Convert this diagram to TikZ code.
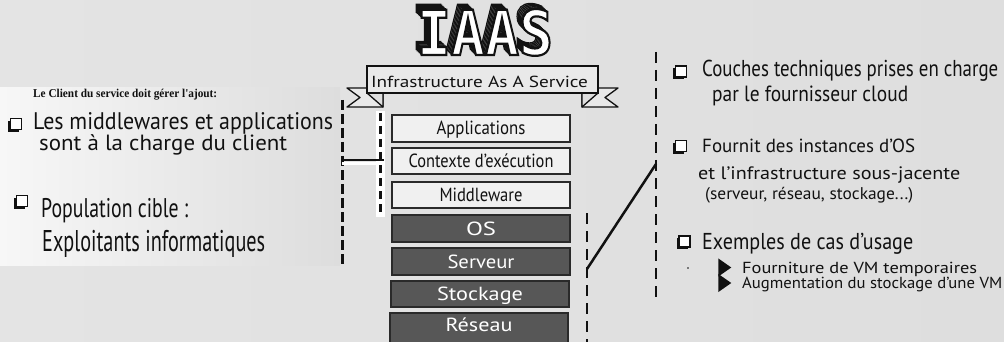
\documentclass[tikz,border=0pt]{standalone}
\usepackage{fontspec}
\usepackage{graphicx}
\setmainfont{PT Sans}
\newfontfamily\hdrfont{Liberation Serif}
\newfontfamily\ttlfont{DejaVu Sans Mono}
\usetikzlibrary{shapes.geometric,shadows}

\definecolor{bgl}{HTML}{E4E4E4}
\definecolor{bgm}{HTML}{E9E9E9}
\definecolor{bgr}{HTML}{DEDEDE}
\definecolor{panl}{HTML}{F7F7F7}
\definecolor{panr}{HTML}{DDDDDD}
\definecolor{boxlight}{HTML}{F0F0F0}
\definecolor{boxdark}{HTML}{575757}
\definecolor{edge}{HTML}{2A2A2A}
\definecolor{ink}{HTML}{111111}
\definecolor{depth}{HTML}{9A9A9A}

% set a text to a given width, keeping its natural height
\newcommand\fitw[2]{\resizebox{#1pt}{\height}{#2}}
\newcommand\fs[1]{\fontsize{#1}{#1}\selectfont}
% outlined title letters: #1 stroke width, #2 fill colour
\newcommand\ttltext[2]{{\color{#2}\special{pdf:literal direct 2 Tr #1 w 0.07 0.07 0.07 RG}%
  \ttlfont\bfseries\fs{62}\fitw{136}{IAAS}\special{pdf:literal direct 0 Tr}}}

\begin{document}
\begin{tikzpicture}[x=1pt,y=-1pt,
  hand/.style={anchor=base west, inner sep=0pt, text=ink},
  layer/.style={draw=edge, line width=1.6pt, minimum width=178pt, inner sep=0pt,
    text height=13pt, text depth=0pt, font=\fs{19}},
  lightlayer/.style={layer, fill=boxlight, text=ink},
  darklayer/.style={layer, fill=boxdark, text=white},
  chkbox/.style={draw=ink, fill=white, line width=1.4pt, minimum size=11pt, inner sep=0pt,
    drop shadow={shadow xshift=-2.2pt, shadow yshift=-2.2pt, opacity=1, fill=ink}},
  tribullet/.style={isosceles triangle, isosceles triangle apex angle=70, fill=ink,
    minimum height=13pt, minimum width=9pt, inner sep=0pt},
  ldash/.style={line width=3pt, dash pattern=on 10pt off 4pt, ink},
  idash/.style={line width=3pt, dash pattern=on 8pt off 5pt, ink},
  rdash/.style={line width=2pt, dash pattern=on 11pt off 7pt, ink},
  title/.style={anchor=base, inner sep=0pt}
]
\useasboundingbox (0,0) rectangle (1004,342);
\clip (0,0) rectangle (1004,342);

% background
\shade[left color=bgl, middle color=bgm, right color=bgr] (0,0) rectangle (1004,342);
\shade[left color=panl, right color=panr] (0,88) rectangle (340,265);

% title: hatched depth behind white outlined letters
\foreach \t in {5,4,3,2,1}
  \node[title] at ({485-1.1*\t},{55-1.1*\t}) {\ttltext{1.3}{depth}};
\node[title] (iaas) at (485,55) {\ttltext{2.2}{white}};

% ribbon tails
\draw[ink, fill=bgm, line width=1.3pt, line join=round]
  (383,88) -- (347,88) -- (360,97.5) -- (347,107) -- (383,107) -- cycle;
\draw[ink, fill=bgm, line width=1.3pt, line join=round]
  (582,88) -- (618,88) -- (605,97.5) -- (618,107) -- (582,107) -- cycle;
\draw[ink, fill=bgr, line width=1.3pt, line join=round] (367,93) -- (383,107) -- (383,93) -- cycle;
\draw[ink, fill=bgr, line width=1.3pt, line join=round] (598,93) -- (582,107) -- (582,93) -- cycle;

% ribbon
\node[draw=ink, fill=bgm, line width=1.6pt, minimum width=231pt, minimum height=27pt, inner sep=0pt]
  (ribbon) at (482.5,79.5) {};
\node[anchor=base, inner sep=0pt, text=ink] (ribbontxt) at (479.5,88)
  {\fs{16}\fitw{217}{Infrastructure As A Service}};

% layer stack
\node[lightlayer, minimum height=27pt] (app) at (481,128.5) {\fitw{89}{Applications}};
\node[lightlayer, minimum height=26pt] (ctx) at (481,161) {\fitw{145}{Contexte d’exécution}};
\node[lightlayer, minimum height=26pt] (mid) at (481,195) {\fitw{83}{Middleware}};
\node[darklayer, minimum height=27pt] (os) at (481,228.5) {\fitw{30}{OS}};
\node[darklayer, minimum height=27pt] (srv) at (481,261.5) {\fitw{67}{Serveur}};
\node[darklayer, minimum height=26pt] (stk) at (480,294) {\fitw{86}{Stockage}};
\node[darklayer, minimum height=33pt, text depth=10pt] (res) at (479,329.5) {\fitw{67}{Réseau}};

% left brackets
\coordinate (lt) at (342,100);
\coordinate (lb) at (342,264);
\coordinate (it) at (380,113);
\coordinate (ib) at (380,213);
\coordinate (lj) at (342,160);
\coordinate (ij) at (384,160);
\fill[white] (376,111) rectangle (385,217);
\draw[ldash] (lt) -- (lb);
\draw[idash] (it) -- (ib);
\draw[white, line width=3pt] ([yshift=-3.5pt]lj) -- ([yshift=-3.5pt]ij);
\draw[ink, line width=2.5pt] (lj) -- (ij);

% right brackets
\coordinate (ra) at (587,213);
\coordinate (rb) at (587,345);
\coordinate (sa) at (656,52);
\coordinate (sb) at (656,300);
\coordinate (ka) at (587,269);
\coordinate (kb) at (656,164);
\draw[rdash] (ra) -- (rb);
\draw[rdash] (sa) -- (sb);
\draw[ink, line width=2.5pt] (ka) -- (kb);

% left notes
\node[hand] (hdr) at (33,98) {\hdrfont\bfseries\fs{12}\fitw{184}{Le Client du service doit gérer l'ajout:}};
\node[chkbox] (c1) at (16,124) {};
\node[hand] (l1) at (33,130) {\fs{24}\fitw{300}{Les middlewares et applications}};
\node[hand] (l2) at (39,150) {\fs{22}\fitw{248}{sont à la charge du client}};
\node[chkbox] (c2) at (22,201) {};
\node[hand] (l3) at (41,217) {\fs{27}\fitw{147}{Population cible :}};
\node[hand] (l4) at (42,251) {\fs{30}\fitw{223}{Exploitants informatiques}};

% right notes
\node[chkbox] (c3) at (681,71.5) {};
\node[hand] (r1) at (702,77) {\fs{23}\fitw{296}{Couches techniques prises en charge}};
\node[hand] (r2) at (712,102) {\fs{22}\fitw{196}{par le fournisseur cloud}};
\node[chkbox] (c4) at (681,146) {};
\node[hand] (r3) at (702,153) {\fs{19}\fitw{213}{Fournit des instances d’OS}};
\node[hand] (r4) at (698,180) {\fs{18}\fitw{262}{et l’infrastructure sous-jacente}};
\node[hand] (r5) at (705,200) {\fs{17}\fitw{208}{(serveur, réseau, stockage...)}};
\node[chkbox] (c5) at (684.5,241.5) {};
\node[hand] (r6) at (702,249) {\fs{23}\fitw{211}{Exemples de cas d’usage}};
\fill[ink] (688,268) circle (0.9);
\node[tribullet] (b1) at (723,267.5) {};
\node[hand] (r7) at (742,273) {\fs{16}\fitw{235}{Fourniture de VM temporaires}};
\node[tribullet] (b2) at (723,283) {};
\node[hand] (r8) at (742,288) {\fs{16}\fitw{260}{Augmentation du stockage d’une VM}};
\end{tikzpicture}
\end{document}
